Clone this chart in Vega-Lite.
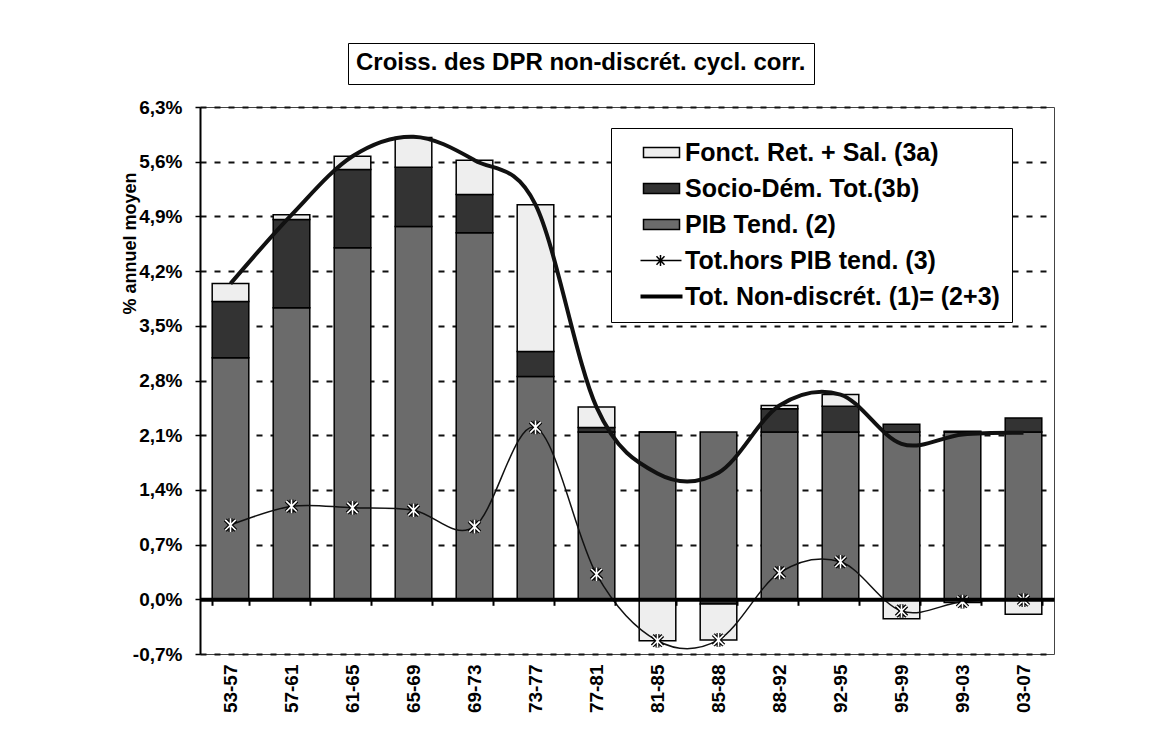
{
  "$schema": "https://vega.github.io/schema/vega-lite/v6.json",
  "background": "white",
  "autosize": {"type": "none"},
  "padding": {"left": 200, "top": 107, "right": 114, "bottom": 86},
  "width": 854,
  "height": 547,
  "config": {"view": {"stroke": "#444", "strokeWidth": 1}, "font": "Liberation Sans",
    "legend": {"symbolStrokeColor": "#000", "symbolStrokeWidth": 1.5, "symbolOpacity": 1}},
  "datasets": {
    "bars": [
      {"period": "53-57", "series": "PIB Tend. (2)", "k": 0, "value": 3.09},
      {"period": "53-57", "series": "Socio-Dém. Tot.(3b)", "k": 1, "value": 0.72},
      {"period": "53-57", "series": "Fonct. Ret. + Sal. (3a)", "k": 2, "value": 0.23},
      {"period": "57-61", "series": "PIB Tend. (2)", "k": 0, "value": 3.73},
      {"period": "57-61", "series": "Socio-Dém. Tot.(3b)", "k": 1, "value": 1.13},
      {"period": "57-61", "series": "Fonct. Ret. + Sal. (3a)", "k": 2, "value": 0.06},
      {"period": "61-65", "series": "PIB Tend. (2)", "k": 0, "value": 4.50},
      {"period": "61-65", "series": "Socio-Dém. Tot.(3b)", "k": 1, "value": 1.00},
      {"period": "61-65", "series": "Fonct. Ret. + Sal. (3a)", "k": 2, "value": 0.17},
      {"period": "65-69", "series": "PIB Tend. (2)", "k": 0, "value": 4.77},
      {"period": "65-69", "series": "Socio-Dém. Tot.(3b)", "k": 1, "value": 0.76},
      {"period": "65-69", "series": "Fonct. Ret. + Sal. (3a)", "k": 2, "value": 0.38},
      {"period": "69-73", "series": "PIB Tend. (2)", "k": 0, "value": 4.69},
      {"period": "69-73", "series": "Socio-Dém. Tot.(3b)", "k": 1, "value": 0.49},
      {"period": "69-73", "series": "Fonct. Ret. + Sal. (3a)", "k": 2, "value": 0.44},
      {"period": "73-77", "series": "PIB Tend. (2)", "k": 0, "value": 2.85},
      {"period": "73-77", "series": "Socio-Dém. Tot.(3b)", "k": 1, "value": 0.32},
      {"period": "73-77", "series": "Fonct. Ret. + Sal. (3a)", "k": 2, "value": 1.88},
      {"period": "77-81", "series": "PIB Tend. (2)", "k": 0, "value": 2.14},
      {"period": "77-81", "series": "Socio-Dém. Tot.(3b)", "k": 1, "value": 0.06},
      {"period": "77-81", "series": "Fonct. Ret. + Sal. (3a)", "k": 2, "value": 0.26},
      {"period": "81-85", "series": "PIB Tend. (2)", "k": 0, "value": 2.14},
      {"period": "81-85", "series": "Socio-Dém. Tot.(3b)", "k": 1, "value": 0.0},
      {"period": "81-85", "series": "Fonct. Ret. + Sal. (3a)", "k": 2, "value": -0.53},
      {"period": "85-88", "series": "PIB Tend. (2)", "k": 0, "value": 2.14},
      {"period": "85-88", "series": "Socio-Dém. Tot.(3b)", "k": 1, "value": -0.06},
      {"period": "85-88", "series": "Fonct. Ret. + Sal. (3a)", "k": 2, "value": -0.46},
      {"period": "88-92", "series": "PIB Tend. (2)", "k": 0, "value": 2.14},
      {"period": "88-92", "series": "Socio-Dém. Tot.(3b)", "k": 1, "value": 0.30},
      {"period": "88-92", "series": "Fonct. Ret. + Sal. (3a)", "k": 2, "value": 0.04},
      {"period": "92-95", "series": "PIB Tend. (2)", "k": 0, "value": 2.14},
      {"period": "92-95", "series": "Socio-Dém. Tot.(3b)", "k": 1, "value": 0.33},
      {"period": "92-95", "series": "Fonct. Ret. + Sal. (3a)", "k": 2, "value": 0.15},
      {"period": "95-99", "series": "PIB Tend. (2)", "k": 0, "value": 2.14},
      {"period": "95-99", "series": "Socio-Dém. Tot.(3b)", "k": 1, "value": 0.10},
      {"period": "95-99", "series": "Fonct. Ret. + Sal. (3a)", "k": 2, "value": -0.25},
      {"period": "99-03", "series": "PIB Tend. (2)", "k": 0, "value": 2.14},
      {"period": "99-03", "series": "Socio-Dém. Tot.(3b)", "k": 1, "value": 0.01},
      {"period": "99-03", "series": "Fonct. Ret. + Sal. (3a)", "k": 2, "value": -0.04},
      {"period": "03-07", "series": "PIB Tend. (2)", "k": 0, "value": 2.14},
      {"period": "03-07", "series": "Socio-Dém. Tot.(3b)", "k": 1, "value": 0.18},
      {"period": "03-07", "series": "Fonct. Ret. + Sal. (3a)", "k": 2, "value": -0.19}
    ],
    "tot3": [
      {"period": "53-57", "series": "Tot.hors PIB tend. (3)", "value": 0.95},
      {"period": "57-61", "series": "Tot.hors PIB tend. (3)", "value": 1.19},
      {"period": "61-65", "series": "Tot.hors PIB tend. (3)", "value": 1.17},
      {"period": "65-69", "series": "Tot.hors PIB tend. (3)", "value": 1.14},
      {"period": "69-73", "series": "Tot.hors PIB tend. (3)", "value": 0.93},
      {"period": "73-77", "series": "Tot.hors PIB tend. (3)", "value": 2.20},
      {"period": "77-81", "series": "Tot.hors PIB tend. (3)", "value": 0.32},
      {"period": "81-85", "series": "Tot.hors PIB tend. (3)", "value": -0.53},
      {"period": "85-88", "series": "Tot.hors PIB tend. (3)", "value": -0.52},
      {"period": "88-92", "series": "Tot.hors PIB tend. (3)", "value": 0.34},
      {"period": "92-95", "series": "Tot.hors PIB tend. (3)", "value": 0.48},
      {"period": "95-99", "series": "Tot.hors PIB tend. (3)", "value": -0.15},
      {"period": "99-03", "series": "Tot.hors PIB tend. (3)", "value": -0.03},
      {"period": "03-07", "series": "Tot.hors PIB tend. (3)", "value": -0.01}
    ],
    "tot1": [
      {"period": "53-57", "series": "Tot. Non-discrét. (1)= (2+3)", "value": 4.04},
      {"period": "57-61", "series": "Tot. Non-discrét. (1)= (2+3)", "value": 4.92},
      {"period": "61-65", "series": "Tot. Non-discrét. (1)= (2+3)", "value": 5.67},
      {"period": "65-69", "series": "Tot. Non-discrét. (1)= (2+3)", "value": 5.92},
      {"period": "69-73", "series": "Tot. Non-discrét. (1)= (2+3)", "value": 5.62},
      {"period": "73-77", "series": "Tot. Non-discrét. (1)= (2+3)", "value": 5.05},
      {"period": "77-81", "series": "Tot. Non-discrét. (1)= (2+3)", "value": 2.46},
      {"period": "81-85", "series": "Tot. Non-discrét. (1)= (2+3)", "value": 1.61},
      {"period": "85-88", "series": "Tot. Non-discrét. (1)= (2+3)", "value": 1.62},
      {"period": "88-92", "series": "Tot. Non-discrét. (1)= (2+3)", "value": 2.48},
      {"period": "92-95", "series": "Tot. Non-discrét. (1)= (2+3)", "value": 2.62},
      {"period": "95-99", "series": "Tot. Non-discrét. (1)= (2+3)", "value": 1.99},
      {"period": "99-03", "series": "Tot. Non-discrét. (1)= (2+3)", "value": 2.11},
      {"period": "03-07", "series": "Tot. Non-discrét. (1)= (2+3)", "value": 2.13}
    ]
  },
  "resolve": {"axis": {"x": "independent"}},
  "layer": [
    {
      "data": {"name": "bars"},
      "mark": {"type": "bar", "strokeWidth": 1.5},
      "encoding": {
        "x": {"field": "period", "type": "nominal",
          "scale": {"domain": ["53-57","57-61","61-65","65-69","69-73","73-77","77-81","81-85","85-88","88-92","92-95","95-99","99-03","03-07"], "paddingInner": 0.4, "paddingOuter": 0.2},
          "axis": {"orient": "bottom", "title": null, "labelAngle": -90, "labelFont": "Liberation Sans", "labelFontWeight": "bold", "labelFontSize": 19, "labelColor": "#000", "labelPadding": 10, "domain": false, "ticks": false, "grid": false}},
        "y": {"field": "value", "type": "quantitative", "stack": "zero",
          "scale": {"domain": [-0.7, 6.3], "nice": false, "zero": false},
          "axis": {"title": "% annuel moyen", "values": [-0.7, 0, 0.7, 1.4, 2.1, 2.8, 3.5, 4.2, 4.9, 5.6, 6.3],
            "labelExpr": "(datum.value < 0 ? '-' : '') + replace(format(abs(datum.value), '.1f'), '.', ',') + '%'",
            "labelFont": "Liberation Sans", "labelFontWeight": "bold", "labelFontSize": 19, "labelColor": "#000", "labelPadding": 13,
            "tickSize": 5, "tickColor": "#000", "tickWidth": 1.5, "domainColor": "#000", "domainWidth": 2,
            "grid": true, "gridColor": "#111", "gridDash": [6, 8], "gridWidth": 2,
            "titleFont": "Liberation Sans", "titleFontWeight": "bold", "titleFontSize": 18, "titleColor": "#000",
            "titleX": -70, "titleY": 136, "titleAngle": 270, "titleBaseline": "middle", "titleAlign": "center"}},
        "color": {"field": "series", "type": "nominal",
          "scale": {"domain": ["Fonct. Ret. + Sal. (3a)", "Socio-Dém. Tot.(3b)", "PIB Tend. (2)", "Tot.hors PIB tend. (3)", "Tot. Non-discrét. (1)= (2+3)"], "range": ["#eeeeee", "#333333", "#6b6b6b", "#111111", "#111111"]},
          "legend": {"orient": "none", "legendX": 411, "legendY": 21, "title": null,
            "strokeColor": "#000", "fillColor": "#fff", "padding": 12,
            "labelFont": "Liberation Sans", "labelFontWeight": "bold", "labelFontSize": 25, "labelColor": "#000", "labelOffset": 37, "labelLimit": 600,
            "rowPadding": 10, "symbolSize": 144, "symbolStrokeColor": "#000", "symbolStrokeWidth": 1.5, "symbolOpacity": 1}},
        "stroke": {"field": "series", "type": "nominal",
          "scale": {"domain": ["Fonct. Ret. + Sal. (3a)", "Socio-Dém. Tot.(3b)", "PIB Tend. (2)", "Tot.hors PIB tend. (3)", "Tot. Non-discrét. (1)= (2+3)"], "range": ["#000000", "#000000", "#000000", "#000000", "#000000"]}},
        "order": {"field": "k", "type": "quantitative", "sort": "ascending"}
      }
    },
    {
      "data": {"name": "bars"},
      "mark": {"type": "point", "size": 0, "filled": true, "color": "#000", "stroke": "#000", "strokeWidth": 1.5, "opacity": 1},
      "encoding": {
        "x": {"field": "period", "type": "nominal", "axis": null},
        "y": {"field": "value", "type": "quantitative"},
        "shape": {"field": "series", "type": "nominal",
          "scale": {"domain": ["Fonct. Ret. + Sal. (3a)", "Socio-Dém. Tot.(3b)", "PIB Tend. (2)", "Tot.hors PIB tend. (3)", "Tot. Non-discrét. (1)= (2+3)"],
            "range": ["M1.333,-0.833H7.333V0.833H1.333Z", "M1.333,-0.833H7.333V0.833H1.333Z", "M1.333,-0.833H7.333V0.833H1.333Z", "M0.833,0H7.667M3.5,-0.7L4.833,0.7M3.5,0.7L4.833,-0.7M4.167,-0.9V0.9", "M0.833,0H7.833"]}}
      }
    },
    {
      "data": {"name": "tot3"},
      "mark": {"type": "line", "interpolate": "cardinal", "color": "#111", "opacity": 1},
      "encoding": {
        "x": {"field": "period", "type": "nominal", "axis": null},
        "y": {"field": "value", "type": "quantitative"},
        "strokeWidth": {"field": "series", "type": "nominal",
          "scale": {"type": "ordinal", "domain": ["Fonct. Ret. + Sal. (3a)", "Socio-Dém. Tot.(3b)", "PIB Tend. (2)", "Tot.hors PIB tend. (3)", "Tot. Non-discrét. (1)= (2+3)"], "range": [1.5, 1.5, 1.5, 1.5, 4]}}
      }
    },
    {
      "data": {"name": "tot1"},
      "mark": {"type": "line", "interpolate": "cardinal", "color": "#111"},
      "encoding": {
        "x": {"field": "period", "type": "nominal", "axis": null},
        "y": {"field": "value", "type": "quantitative"},
        "strokeWidth": {"field": "series", "type": "nominal",
          "scale": {"type": "ordinal", "domain": ["Fonct. Ret. + Sal. (3a)", "Socio-Dém. Tot.(3b)", "PIB Tend. (2)", "Tot.hors PIB tend. (3)", "Tot. Non-discrét. (1)= (2+3)"], "range": [1.5, 1.5, 1.5, 1.5, 4]}},
        "opacity": {"field": "series", "type": "ordinal", "scale": {"range": [1, 1]},
          "legend": {"orient": "none", "legendX": 148, "legendY": -64, "title": "Croiss. des DPR non-discrét. cycl. corr.",
            "titleFont": "Liberation Sans", "titleFontWeight": "bold", "titleFontSize": 24, "titleColor": "#000", "titlePadding": 0, "titleLimit": 1000,
            "strokeColor": "#000", "fillColor": "#fff", "padding": 8,
            "symbolSize": 0, "symbolOpacity": 0, "symbolStrokeWidth": 0, "labelOpacity": 0, "labelFontSize": 1, "labelLimit": 1, "labelOffset": 0, "rowPadding": 0}}
      }
    },
    {
      "data": {"name": "tot3"},
      "mark": {"type": "point", "shape": "M-1,-1L1,1M-1,1L1,-1M0,-1.3V1.3", "size": 110, "filled": false, "stroke": "#000", "strokeWidth": 4, "opacity": 1},
      "encoding": {
        "x": {"field": "period", "type": "nominal",
          "axis": {"orient": "bottom", "offset": -54.7, "labels": false, "title": null, "grid": false, "domain": true, "domainColor": "#000", "domainWidth": 4, "ticks": true, "tickBand": "extent", "tickSize": 6, "tickWidth": 2, "tickColor": "#000", "zindex": 1}},
        "y": {"field": "value", "type": "quantitative"}
      }
    },
    {
      "data": {"name": "tot3"},
      "mark": {"type": "point", "shape": "M-1,-1L1,1M-1,1L1,-1M0,-1.3V1.3", "size": 110, "filled": false, "stroke": "#fff", "strokeWidth": 1.6, "opacity": 1},
      "encoding": {
        "x": {"field": "period", "type": "nominal", "axis": null},
        "y": {"field": "value", "type": "quantitative"}
      }
    }
  ]
}
